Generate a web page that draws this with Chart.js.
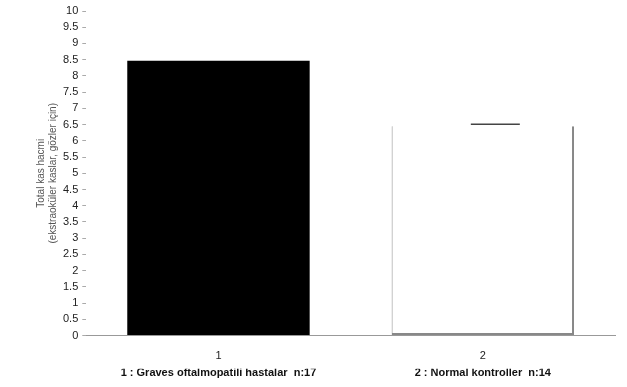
<!DOCTYPE html>
<html><head><meta charset="utf-8">
<script src="https://cdn.jsdelivr.net/npm/chart.js@4/dist/chart.umd.min.js"></script>
<style>html,body{margin:0;padding:0;background:#fff}#w{width:627px;height:387px}</style>
</head><body><div id="w"><canvas id="c"></canvas></div>
<script>
const categories = ["1", "2"];
const groupLabels = ["1 : Graves oftalmopatili hastalar  n:17", "2 : Normal kontroller  n:14"];
const meanVolume = [8.47, 6.45];
const yTicks = [0,0.5,1,1.5,2,2.5,3,3.5,4,4.5,5,5.5,6,6.5,7,7.5,8,8.5,9,9.5,10];
const yTitle = ["Total kas hacmi", "(ekstraoküler kaslar, gözler için)"];

const topCap = {
  id: 'topCap',
  afterDatasetsDraw(chart) {
    const el = chart.getDatasetMeta(0).data[1];
    const ctx = chart.ctx;
    ctx.save();
    ctx.strokeStyle = '#444';
    ctx.lineWidth = 1.5;
    ctx.beginPath();
    ctx.moveTo(el.x - 12, el.y - 2);
    ctx.lineTo(el.x + 37, el.y - 2);
    ctx.stroke();
    ctx.restore();
  }
};

new Chart(document.getElementById('c'), {
  type: 'bar',
  data: {
    labels: categories,
    datasets: [{
      data: meanVolume,
      backgroundColor: ['#000000', '#ffffff'],
      borderColor: ['#000000', '#888888'],
      borderWidth: [0, {left: 1, right: 2, bottom: 2, top: 0}],
      borderSkipped: false,
      barPercentage: 0.69,
      categoryPercentage: 1.0
    }]
  },
  options: {
    responsive: true,
    maintainAspectRatio: false,
    animation: false,
    layout: {padding: {left: 25, right: 12, top: 11, bottom: 9}},
    plugins: {legend: {display: false}, tooltip: {enabled: false}},
    scales: {
      x: {
        type: 'category',
        labels: categories,
        grid: {display: false},
        border: {display: true, color: '#999999', width: 1},
        ticks: {color: '#222', font: {family: 'Liberation Sans', size: 11}, padding: 6}
      },
      x2: {
        type: 'category',
        labels: groupLabels,
        position: 'bottom',
        grid: {display: false, drawTicks: false},
        border: {display: false},
        ticks: {color: '#111', font: {family: 'Liberation Sans', size: 11, weight: 'bold'}, padding: -2}
      },
      y: {
        min: 0, max: 10,
        afterBuildTicks(axis) { axis.ticks = yTicks.map(v => ({value: v})); },
        grid: {drawOnChartArea: false, drawTicks: true, tickLength: 4, color: '#aaaaaa'},
        border: {display: false},
        ticks: {
          autoSkip: false,
          color: '#222',
          font: {family: 'Liberation Sans', size: 11},
          padding: 4,
          callback: v => String(v)
        },
        title: {
          display: true,
          text: yTitle,
          color: '#555',
          font: {family: 'Liberation Sans', size: 10},
          padding: {top: 10, bottom: 0}
        }
      }
    }
  },
  plugins: [topCap]
});
</script>
</body></html>
